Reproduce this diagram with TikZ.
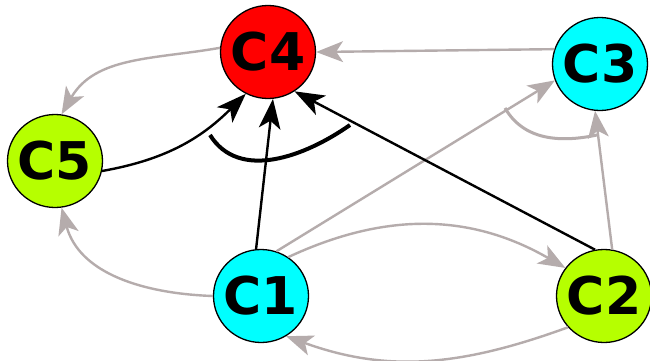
\documentclass[tikz,border=0pt]{standalone}
\usepackage{fontspec}
\setmainfont{DejaVu Sans}
\usetikzlibrary{shapes.geometric}
\definecolor{nodered}{RGB}{255,0,0}
\definecolor{nodecyan}{RGB}{0,255,255}
\definecolor{nodelime}{RGB}{182,255,0}
\definecolor{edgegrey}{RGB}{181,172,172}
\newcommand\ctext[1]{\makebox[0pt]{#1}}

% dart-shaped heads of fixed size
\pgfdeclarearrow{
  name = GreyHead,
  parameters = {},
  setup code = {
    \pgfarrowssettipend{0pt}
    \pgfarrowssetbackend{-27pt}
    \pgfarrowssetvisualbackend{-20pt}
    \pgfarrowssetlineend{-19pt}
    \pgfarrowshullpoint{0pt}{0pt}
    \pgfarrowsupperhullpoint{-27pt}{10.5pt}
  },
  drawing code = {
    \pgfpathmoveto{\pgfqpoint{0pt}{0pt}}
    \pgfpathlineto{\pgfqpoint{-27pt}{10.5pt}}
    \pgfpathlineto{\pgfqpoint{-20pt}{0pt}}
    \pgfpathlineto{\pgfqpoint{-27pt}{-10.5pt}}
    \pgfpathclose
    \pgfusepathqfill
  },
}
\pgfdeclarearrow{
  name = BlackHead,
  parameters = {},
  setup code = {
    \pgfarrowssettipend{0pt}
    \pgfarrowssetbackend{-30pt}
    \pgfarrowssetvisualbackend{-22pt}
    \pgfarrowssetlineend{-21pt}
    \pgfarrowshullpoint{0pt}{0pt}
    \pgfarrowsupperhullpoint{-30pt}{11pt}
  },
  drawing code = {
    \pgfpathmoveto{\pgfqpoint{0pt}{0pt}}
    \pgfpathlineto{\pgfqpoint{-30pt}{11pt}}
    \pgfpathlineto{\pgfqpoint{-22pt}{0pt}}
    \pgfpathlineto{\pgfqpoint{-30pt}{-11pt}}
    \pgfpathclose
    \pgfusepathqfill
  },
}

\tikzset{
  cnode/.style={ellipse, draw=black, line width=1.3pt, minimum width=95pt,
    minimum height=93pt, inner sep=0pt, font=\fontsize{52}{52}\selectfont\bfseries},
  greyedge/.style={color=edgegrey, line width=2.4pt, -GreyHead},
  blackedge/.style={color=black, line width=2.4pt, -BlackHead},
}
\begin{document}
\begin{tikzpicture}[x=1pt,y=-1pt]
\useasboundingbox[fill=white] (0,0) rectangle (650,361);

% concept nodes
\node[cnode, fill=nodered]  (C4) at (268,52)  {\ctext{C4}};
\node[cnode, fill=nodecyan] (C3) at (600,64)  {\ctext{C3}};
\node[cnode, fill=nodelime] (C5) at (55,161)  {\ctext{C5}};
\node[cnode, fill=nodecyan] (C1) at (261,296) {\ctext{C1}};
\node[cnode, fill=nodelime] (C2) at (604,296) {\ctext{C2}};

% grey links
\draw[greyedge] (C3.162) -- (C4.east);
\draw[greyedge] (C4.175) to[out=190,in=60] (C5.82);
\draw[greyedge] (C1.71) -- (C3.200);
\draw[greyedge] (C2.80) -- (C3.264);
\draw[greyedge] (C1.180) to[out=178,in=-75] (C5.-82);
\draw[greyedge] (C1.55) to[out=25,in=150] (C2.144);
\draw[greyedge] (C2.221) to[out=200,in=-20] (C1.-58);

% grey AND arc on the links into C3
\coordinate (ga) at (505,108);
\coordinate (gb) at (597,135);
\draw[edgegrey, line width=3pt] (ga) to[out=-60,in=192] (gb);

% black links into C4
\draw[blackedge] (C5.-12) to[out=10,in=225] (C4.242);
\draw[blackedge] (C1.96) -- (C4.276);
\draw[blackedge] (C2.101) -- (C4.304);

% black AND arc on the links into C4
\coordinate (ba) at (210,135);
\coordinate (bb) at (350,125);
\draw[black, line width=4pt] (ba) to[out=-58,in=215] (bb);
\end{tikzpicture}
\end{document}
